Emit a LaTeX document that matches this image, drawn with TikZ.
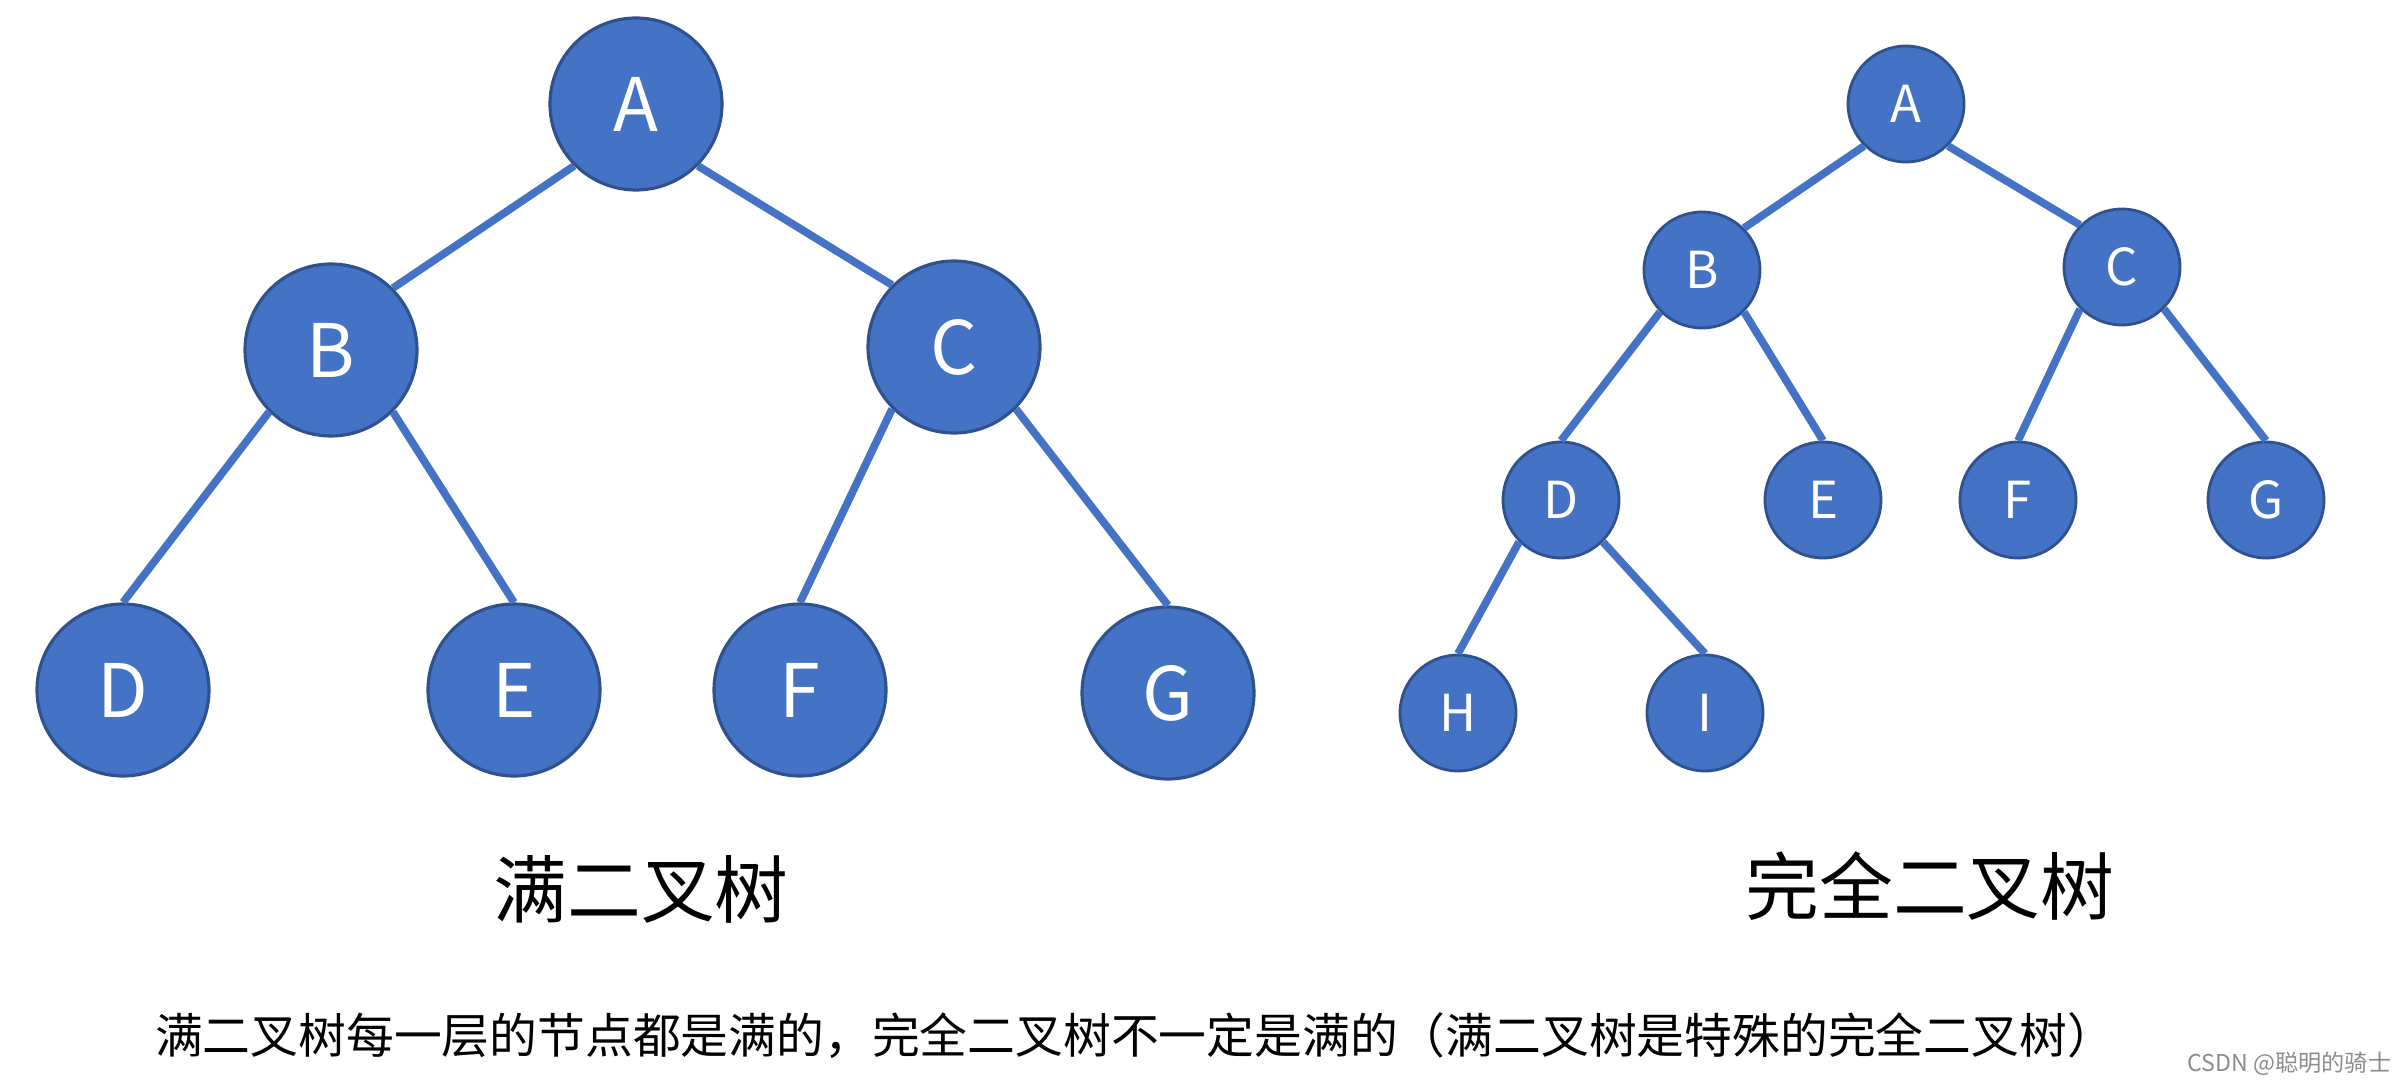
\documentclass[tikz,border=0pt]{standalone}
\usepackage{fontspec}
\setmainfont{Noto Sans CJK SC}
\newfontfamily\cjk{Noto Sans CJK SC}
\definecolor{nodeblue}{HTML}{4472C4}
\definecolor{rimblue}{HTML}{2F528F}
\definecolor{markgray}{HTML}{8C8C8C}

\begin{document}
\begin{tikzpicture}[x=1cm, y=1cm,
    bignode/.style={circle, fill=nodeblue, draw=rimblue, line width=0.9pt,
                    minimum size=1.72cm, inner sep=0pt, text=white,
                    font=\fontsize{21}{21}\selectfont},
    smallnode/.style={circle, fill=nodeblue, draw=rimblue, line width=0.8pt,
                      minimum size=1.16cm, inner sep=0pt, text=white,
                      font=\fontsize{14.5}{14.5}\selectfont},
    branch/.style={draw=nodeblue, line width=2.2pt},
    title/.style={font=\fontsize{21}{21}\selectfont\cjk, text=black},
    note/.style={font=\fontsize{13.6}{13.6}\selectfont\cjk, text=black}]
  \useasboundingbox (0,0) rectangle (24.04,-10.86);

  % full binary tree
  \node[bignode] (lA) at (6.36,-1.04) {A};
  \node[bignode] (lB) at (3.31,-3.50) {B};
  \node[bignode] (lC) at (9.54,-3.47) {C};
  \node[bignode] (lD) at (1.23,-6.90) {D};
  \node[bignode] (lE) at (5.14,-6.90) {E};
  \node[bignode] (lF) at (8.00,-6.90) {F};
  \node[bignode] (lG) at (11.68,-6.93) {G};
  \draw[branch] (lA.south west) -- (lB.north east);
  \draw[branch] (lA.south east) -- (lC.north west);
  \draw[branch] (lB.south west) -- (lD.north);
  \draw[branch] (lB.south east) -- (lE.north);
  \draw[branch] (lC.south west) -- (lF.north);
  \draw[branch] (lC.south east) -- (lG.north);

  % complete binary tree
  \node[smallnode] (rA) at (19.06,-1.04) {A};
  \node[smallnode] (rB) at (17.02,-2.70) {B};
  \node[smallnode] (rC) at (21.22,-2.67) {C};
  \node[smallnode] (rD) at (15.61,-5.00) {D};
  \node[smallnode] (rE) at (18.23,-5.00) {E};
  \node[smallnode] (rF) at (20.18,-5.00) {F};
  \node[smallnode] (rG) at (22.66,-5.00) {G};
  \node[smallnode] (rH) at (14.58,-7.13) {H};
  \node[smallnode] (rI) at (17.05,-7.13) {I};
  \draw[branch] (rA.south west) -- (rB.north east);
  \draw[branch] (rA.south east) -- (rC.north west);
  \draw[branch] (rB.south west) -- (rD.north);
  \draw[branch] (rB.south east) -- (rE.north);
  \draw[branch] (rC.south west) -- (rF.north);
  \draw[branch] (rC.south east) -- (rG.north);
  \draw[branch] (rD.south west) -- (rH.north);
  \draw[branch] (rD.south east) -- (rI.north);

  % captions
  \node[title] (lT) at (6.41,-8.89) {满二叉树};
  \node[title] (rT) at (19.30,-8.86) {完全二叉树};
  \node[note] (nT) at (11.35,-10.36) {满二叉树每一层的节点都是满的，完全二叉树不一定是满的（满二叉树是特殊的完全二叉树）};
  \node[anchor=east, text=markgray, font=\fontsize{6.6}{6.6}\selectfont\cjk, inner sep=0pt] (wm) at (23.92,-10.64) {CSDN @聪明的骑士};
\end{tikzpicture}
\end{document}
